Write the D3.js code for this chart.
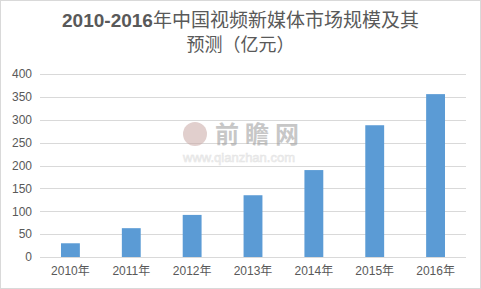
<!DOCTYPE html>
<html>
<head>
<meta charset="utf-8">
<script src="https://cdn.jsdelivr.net/npm/d3@7"></script>
<style>
body { margin: 0; background: #fff; }
svg { display: block; font-family: "Liberation Sans", Arial, sans-serif; }
</style>
</head>
<body>
<div id="chart"></div>
<script>
let years = ["2010年", "2011年", "2012年", "2013年", "2014年", "2015年", "2016年"];
let marketSize = [30, 63, 92, 135, 190, 288, 356];
let yTicks = [0, 50, 100, 150, 200, 250, 300, 350, 400];

let width = 481;
let height = 289;
let margin = { top: 74, right: 15, bottom: 32, left: 40 };

let svg = d3.select('#chart')
	.append('svg')
	.attr('width', width)
	.attr('height', height);

// outer border
svg.append('rect')
	.attr('x', 0.5).attr('y', 0.5)
	.attr('width', width - 1).attr('height', height - 1)
	.attr('fill', 'white')
	.attr('stroke', '#d9d9d9');

let xScale = d3.scaleBand()
	.domain(years)
	.range([margin.left, width - margin.right])
	.paddingInner(0.69)
	.paddingOuter(0.345);

let yScale = d3.scaleLinear()
	.domain([0, 400])
	.range([height - margin.bottom, margin.top]);

// gridlines
svg.append('g')
	.selectAll('line')
	.data(yTicks)
	.enter()
	.append('line')
	.attr('x1', margin.left)
	.attr('x2', width - margin.right)
	.attr('y1', d => Math.round(yScale(d)) + 0.5)
	.attr('y2', d => Math.round(yScale(d)) + 0.5)
	.attr('stroke', '#d9d9d9');

// watermark
let wm = svg.append('g').attr('opacity', 0.55);
wm.append('circle').attr('cx', 195).attr('cy', 134).attr('r', 12).attr('fill', '#c9a9a6');
wm.append('text').attr('x', 215).attr('y', 143)
	.attr('font-size', 24).attr('font-weight', 'bold').attr('fill', '#9a9a9a')
	.attr('font-family', '"Noto Sans CJK SC", sans-serif')
	.attr('letter-spacing', 6)
	.text('前瞻网');
wm.append('text').attr('x', 183).attr('y', 162)
	.attr('font-size', 13).attr('fill', '#e6e6e6')
	.attr('stroke', '#d0d0d0').attr('stroke-width', 0.6)
	.text('www.qianzhan.com');

// bars
svg.append('g')
	.selectAll('rect')
	.data(marketSize)
	.enter()
	.append('rect')
	.attr('x', (d, i) => xScale(years[i]))
	.attr('y', d => yScale(d))
	.attr('width', xScale.bandwidth())
	.attr('height', d => yScale(0) - yScale(d))
	.attr('fill', '#5b9bd5');

// y axis labels
let yAxis = svg.append('g')
	.attr('transform', `translate(${margin.left - 8},0)`)
	.call(d3.axisLeft(yScale).tickValues(yTicks).tickSize(0).tickPadding(0));
yAxis.select('.domain').remove();
yAxis.selectAll('text').attr('font-size', 12).attr('fill', '#595959')
	.attr('font-family', '"Liberation Sans", Arial, sans-serif');

// x axis labels
let xAxis = svg.append('g')
	.attr('transform', `translate(0,${height - margin.bottom})`)
	.call(d3.axisBottom(xScale).tickSize(0).tickPadding(9));
xAxis.select('.domain').remove();
xAxis.selectAll('text').attr('font-size', 12).attr('fill', '#595959')
	.attr('font-family', '"Liberation Sans", "Noto Sans CJK SC", sans-serif');

// title
let title = svg.append('text')
	.attr('x', width / 2)
	.attr('y', 27)
	.attr('text-anchor', 'middle')
	.attr('font-size', 19)
	.attr('fill', '#595959')
	.attr('font-family', '"Liberation Sans", "Noto Sans CJK SC", sans-serif');
title.append('tspan').attr('font-weight', 'bold').text('2010-2016');
title.append('tspan').text('年中国视频新媒体市场规模及其');
svg.append('text')
	.attr('x', width / 2)
	.attr('y', 51)
	.attr('text-anchor', 'middle')
	.attr('font-size', 18)
	.attr('fill', '#595959')
	.attr('font-family', '"Noto Sans CJK SC", sans-serif')
	.text('预测（亿元）');
</script>
</body>
</html>
